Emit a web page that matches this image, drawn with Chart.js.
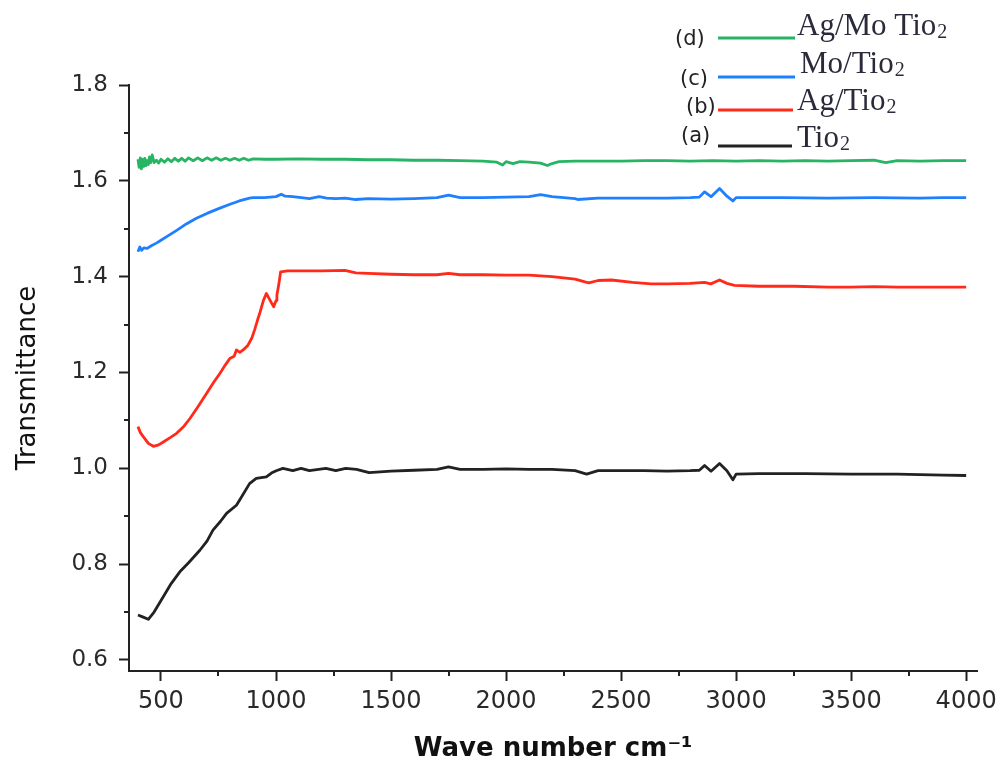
<!DOCTYPE html>
<html><head><meta charset="utf-8">
<script src="https://cdn.jsdelivr.net/npm/chart.js@4.4.0/dist/chart.umd.min.js"></script>
<style>html,body{margin:0;padding:0;background:#fff;}canvas{display:block;}</style>
</head><body>
<canvas id="c" width="1003" height="762"></canvas>
<script>
// ---- tick values ----
const xTickValues = [500,750,1000,1250,1500,1750,2000,2250,2500,2750,3000,3250,3500,3750,4000];
const yTickValues = [0.6,0.7,0.8,0.9,1.0,1.1,1.2,1.3,1.4,1.5,1.6,1.7,1.8];

// ---- series labels ----
const seriesLetters = ['(a)','(b)','(c)','(d)'];
const seriesLabels = ['Tio\u2082','Ag/Tio\u2082','Mo/Tio\u2082','Ag/Mo Tio\u2082'];

// ---- (a) TiO2 ----
const xTio2 = [400,420,445,470,510,545,582,620,669,700,726,760,785,828,850,885,914,958,980,1001,1030,1073,1109,1145,1217,1260,1303,1350,1405,1500,1600,1700,1750,1800,1900,2000,2100,2200,2300,2350,2400,2500,2600,2700,2800,2840,2863,2891,2928,2960,2986,3000,3100,3300,3500,3700,3800,3900,4000];
const yTio2 = [0.694,0.690,0.685,0.700,0.732,0.760,0.784,0.803,0.829,0.848,0.871,0.890,0.906,0.923,0.940,0.968,0.979,0.982,0.990,0.995,1.000,0.995,1.000,0.995,1.000,0.995,1.000,0.998,0.991,0.994,0.996,0.998,1.003,0.998,0.998,0.999,0.998,0.998,0.995,0.988,0.995,0.995,0.995,0.994,0.995,0.996,1.006,0.994,1.010,0.995,0.976,0.988,0.989,0.989,0.988,0.988,0.987,0.986,0.985];

// ---- (b) Ag/TiO2 ----
const xAgTio2 = [400,410,423,445,467,490,510,540,568,600,626,660,698,730,756,780,799,818,828,843,860,878,895,907,920,929,945,958,975,990,1000,1004,1010,1015,1020,1050,1100,1200,1300,1347,1400,1500,1600,1700,1750,1800,1900,2000,2100,2200,2300,2343,2360,2400,2458,2550,2631,2700,2800,2863,2890,2928,2960,2993,3100,3252,3400,3500,3600,3700,3800,3900,4000];
const yAgTio2 = [1.087,1.075,1.066,1.052,1.046,1.049,1.055,1.064,1.073,1.088,1.104,1.128,1.156,1.180,1.198,1.216,1.229,1.234,1.247,1.242,1.248,1.257,1.272,1.289,1.310,1.323,1.350,1.365,1.350,1.337,1.350,1.362,1.378,1.393,1.410,1.412,1.412,1.412,1.413,1.408,1.407,1.405,1.404,1.404,1.407,1.404,1.404,1.403,1.403,1.400,1.395,1.389,1.387,1.392,1.393,1.388,1.385,1.385,1.386,1.388,1.385,1.393,1.386,1.382,1.380,1.380,1.378,1.378,1.379,1.378,1.378,1.378,1.378];

// ---- (c) Mo/TiO2 ----
const xMoTio2 = [400,408,416,425,440,460,480,500,530,570,610,654,700,756,800,840,885,900,950,1000,1023,1040,1073,1110,1145,1188,1220,1260,1300,1347,1400,1500,1600,1700,1750,1800,1900,2000,2100,2150,2200,2300,2312,2400,2500,2600,2700,2800,2840,2863,2891,2928,2960,2986,3000,3200,3400,3600,3800,3900,4000];
const yMoTio2 = [1.452,1.462,1.455,1.460,1.459,1.465,1.470,1.476,1.485,1.497,1.510,1.522,1.532,1.543,1.551,1.558,1.564,1.565,1.565,1.567,1.572,1.568,1.567,1.565,1.563,1.567,1.564,1.563,1.564,1.561,1.563,1.562,1.563,1.565,1.570,1.565,1.565,1.566,1.567,1.571,1.567,1.563,1.561,1.564,1.564,1.564,1.564,1.565,1.566,1.577,1.567,1.584,1.568,1.558,1.565,1.565,1.564,1.565,1.564,1.565,1.565];

// ---- (d) Ag/Mo TiO2 ----
const xAgMoTio2 = [400,405,410,415,420,425,430,435,440,445,450,455,462,470,480,490,500,515,530,545,560,575,590,605,620,640,660,680,700,720,740,760,780,800,820,840,860,880,900,950,1000,1100,1200,1300,1400,1500,1600,1700,1800,1900,1960,1985,2000,2030,2060,2100,2150,2180,2200,2230,2300,2400,2500,2600,2700,2800,2900,3000,3100,3200,3300,3400,3500,3600,3650,3700,3800,3900,4000];
const yAgMoTio2 = [1.645,1.628,1.648,1.625,1.645,1.630,1.647,1.632,1.642,1.634,1.650,1.638,1.654,1.638,1.643,1.637,1.645,1.639,1.646,1.640,1.647,1.641,1.647,1.641,1.648,1.642,1.648,1.642,1.648,1.643,1.648,1.643,1.647,1.643,1.647,1.643,1.647,1.643,1.646,1.645,1.645,1.646,1.645,1.645,1.644,1.644,1.643,1.643,1.642,1.641,1.639,1.633,1.640,1.636,1.640,1.639,1.637,1.632,1.636,1.640,1.641,1.641,1.641,1.642,1.642,1.641,1.642,1.641,1.642,1.641,1.642,1.641,1.642,1.643,1.638,1.642,1.641,1.642,1.642];

const seriesColors = ['#222222','#ff2a1a','#1f80ff','#27b463'];

function pts(xs, ys){ return xs.map((x,i)=>({x:x, y:ys[i]})); }

const datasets = [
  {label: seriesLabels[0], data: pts(xTio2, yTio2)},
  {label: seriesLabels[1], data: pts(xAgTio2, yAgTio2)},
  {label: seriesLabels[2], data: pts(xMoTio2, yMoTio2)},
  {label: seriesLabels[3], data: pts(xAgMoTio2, yAgMoTio2)}
].map((d,i)=>Object.assign(d,{borderColor: seriesColors[i], backgroundColor: seriesColors[i], borderWidth: 2.8, pointRadius: 0, tension: 0, fill: false}));

const isMajorX = v => v % 500 === 0;
const isMajorY = v => Math.round(v*10) % 2 === 0;

const minorTicks = {
  id: 'minorTicks',
  afterDraw(chart){
    const ctx = chart.ctx, xs = chart.scales.x, ys = chart.scales.y;
    ctx.save();
    ctx.strokeStyle = '#222'; ctx.lineWidth = 2;
    xs.ticks.forEach(t => { if (!isMajorX(t.value)) { const p = Math.round(xs.getPixelForValue(t.value)); ctx.beginPath(); ctx.moveTo(p, xs.top); ctx.lineTo(p, xs.top + 5); ctx.stroke(); } });
    ys.ticks.forEach(t => { if (!isMajorY(t.value)) { const p = Math.round(ys.getPixelForValue(t.value)); ctx.beginPath(); ctx.moveTo(ys.right, p); ctx.lineTo(ys.right - 5, p); ctx.stroke(); } });
    ctx.restore();
  }
};

// legend drawn in the top-right corner
const legendPos = [ // [letterX, letterY(middle), lineX1, lineX2, lineY, textX, textBaseline]
  [681, 137, 718, 792, 146, 797, 147],
  [686, 108, 718, 793, 110, 797, 110],
  [680, 80, 718, 795, 77, 800, 73],
  [675, 40, 718, 795, 38, 797, 35]
];
const customLegend = {
  id: 'customLegend',
  afterDraw(chart){
    const ctx = chart.ctx;
    ctx.save();
    chart.data.datasets.forEach((ds, i) => {
      const p = legendPos[i];
      ctx.fillStyle = '#222';
      ctx.font = '21px "DejaVu Sans"';
      ctx.textBaseline = 'middle'; ctx.textAlign = 'left';
      ctx.fillText(seriesLetters[i], p[0], p[1]);
      ctx.strokeStyle = ds.borderColor; ctx.lineWidth = 3;
      ctx.beginPath(); ctx.moveTo(p[2], p[4]); ctx.lineTo(p[3], p[4]); ctx.stroke();
      const parts = ds.label.split('\u2082');
      ctx.fillStyle = '#2a2a3a';
      ctx.font = '31px "Liberation Serif"';
      ctx.textBaseline = 'alphabetic';
      ctx.fillText(parts[0], p[5], p[6]);
      const w = ctx.measureText(parts[0]).width;
      ctx.font = '20px "Liberation Serif"';
      ctx.fillText('2', p[5] + w + 1, p[6] + 3);
    });
    ctx.restore();
  }
};

new Chart(document.getElementById('c'), {
  type: 'line',
  data: { datasets: datasets },
  plugins: [minorTicks, customLegend],
  options: {
    responsive: false,
    animation: false,
    devicePixelRatio: 1,
    layout: { padding: { top: 85, right: 23, left: 0, bottom: 0 } },
    plugins: { legend: { display: false }, tooltip: { enabled: false } },
    elements: { line: { borderJoinStyle: 'round' } },
    scales: {
      x: {
        type: 'linear', min: 361, max: 4048,
        afterFit: s => { s.height = 91; },
        afterBuildTicks: s => { s.ticks = xTickValues.map(v => ({value: v})); },
        grid: { display: true, drawOnChartArea: false, drawTicks: true, tickLength: 10, tickWidth: 2,
                tickColor: c => (c.tick && isMajorX(c.tick.value)) ? '#222' : 'rgba(0,0,0,0)' },
        border: { display: true, color: '#222', width: 2 },
        ticks: { autoSkip: false, maxRotation: 0, padding: 6, color: '#2a2a2a',
                 font: { family: 'DejaVu Sans', size: 24 },
                 callback: v => isMajorX(v) ? String(v) : '' },
        title: { display: true, text: 'Wave number cm\u207B\u00B9', color: '#111',
                 font: { family: 'DejaVu Sans', size: 26, weight: 'bold', lineHeight: 1 }, padding: { top: 0, bottom: 0 } }
      },
      y: {
        type: 'linear', min: 0.577, max: 1.8,
        afterFit: s => { s.width = 129; },
        afterBuildTicks: s => { s.ticks = yTickValues.map(v => ({value: v})); },
        grid: { display: true, drawOnChartArea: false, drawTicks: true, tickLength: 10, tickWidth: 2,
                tickColor: c => (c.tick && isMajorY(c.tick.value)) ? '#222' : 'rgba(0,0,0,0)' },
        border: { display: true, color: '#222', width: 2 },
        ticks: { autoSkip: false, padding: 11, color: '#2a2a2a',
                 font: { family: 'DejaVu Sans', size: 23 },
                 callback: v => isMajorY(v) ? v.toFixed(1) : '' },
        title: { display: true, text: 'Transmittance', color: '#111',
                 font: { family: 'DejaVu Sans', size: 26, lineHeight: 1.2 }, padding: { top: 13, bottom: 0 } }
      }
    }
  }
});
</script>
</body></html>
